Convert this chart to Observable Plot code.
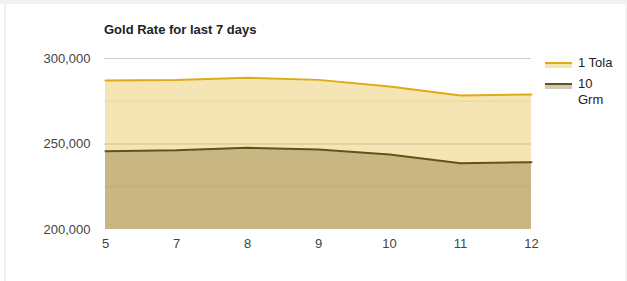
<!DOCTYPE html>
<html>
<head>
<meta charset="utf-8">
<script src="https://cdn.jsdelivr.net/npm/d3@7"></script>
<script src="https://cdn.jsdelivr.net/npm/@observablehq/plot@0.6"></script>
<style>
  html, body { margin: 0; padding: 0; background: #ffffff; }
  body { width: 627px; height: 281px; position: relative; overflow: hidden; font-family: Arial, "Liberation Sans", sans-serif; }
  #topband { position: absolute; left: 0; top: 0; width: 627px; height: 4px; background: #f1f1f1; }
  #leftband { position: absolute; left: 4px; top: 4px; width: 2px; height: 277px; background: #efefef; }
  #rightband { position: absolute; left: 625px; top: 4px; width: 2px; height: 277px; background: #f3f3f3; }
  #chart { position: absolute; left: 0; top: 0; }
  #title { position: absolute; left: 104px; top: 22px; font-size: 13px; font-weight: bold; color: #222; white-space: nowrap; line-height: 16px; }
  .lg { position: absolute; font-size: 13px; color: #222; line-height: 16px; }
  .sw { position: absolute; width: 27px; height: 4px; }
</style>
</head>
<body>
<div id="topband"></div>
<div id="leftband"></div>
<div id="rightband"></div>
<div id="chart"></div>
<div id="title">Gold Rate for last 7 days</div>
<div id="legend"></div>
<script>
// Data
const days = ["5", "7", "8", "9", "10", "11", "12"];
const tola = [287100, 287400, 288700, 287500, 283600, 278400, 279000];
const grm = [245800, 246300, 247800, 246800, 243900, 238800, 239400];
const seriesNames = ["1 Tola", "10 Grm"];
const yTicks = [200000, 250000, 300000];
const yMinor = [225000, 275000];

const tolaColor = "#e1a805";
const grmColor = "#604c14";
const tolaLine = "#deaa18";
const grmLine = "#655219";

const data = days.map((d, i) => ({day: d, tola: tola[i], grm: grm[i]}));
const base = yTicks[0];

const chart = Plot.plot({
  width: 627,
  height: 281,
  marginLeft: 104,
  marginRight: 96,
  marginTop: 58,
  marginBottom: 52,
  style: {fontFamily: "Arial, 'Liberation Sans', sans-serif", fontSize: "13px", background: "transparent", overflow: "visible"},
  x: {type: "point", domain: days, padding: 0, align: 0.5},
  y: {domain: [200000, 300000]},
  marks: [
    Plot.ruleY(yMinor, {stroke: "#ebebeb"}),
    Plot.ruleY(yTicks.slice(1), {stroke: "#cccccc"}),
    Plot.areaY(data, {x: "day", y1: base, y2: "tola", fill: tolaColor, fillOpacity: 0.3, curve: "linear"}),
    Plot.areaY(data, {x: "day", y1: base, y2: "grm", fill: grmColor, fillOpacity: 0.3, curve: "linear"}),
    Plot.lineY(data, {x: "day", y: "tola", stroke: tolaLine, strokeWidth: 2}),
    Plot.lineY(data, {x: "day", y: "grm", stroke: grmLine, strokeWidth: 2}),
    Plot.axisY({ticks: yTicks, tickSize: 0, tickPadding: 14, tickFormat: d3.format(","), fill: "#444", label: null}),
    Plot.axisX({tickSize: 0, tickPadding: 9, fill: "#444", label: null})
  ]
});
document.getElementById("chart").appendChild(chart);

// Legend
const legend = document.getElementById("legend");
const legendItems = [
  {name: seriesNames[0], color: tolaColor, line: tolaLine, top: 62, textTop: 55, width: 45},
  {name: seriesNames[1], color: grmColor, line: grmLine, top: 83, textTop: 76, width: 30}
];
for (const it of legendItems) {
  const sw = document.createElement("div");
  sw.className = "sw";
  sw.style.left = "545px";
  sw.style.top = it.top + "px";
  sw.style.borderTop = "2px solid " + it.line;
  sw.style.background = it.color;
  sw.style.opacity = "1";
  sw.style.backgroundColor = d3.color(it.color).copy({opacity: 0.3}).formatRgb();
  legend.appendChild(sw);
  const tx = document.createElement("div");
  tx.className = "lg";
  tx.style.left = "578px";
  tx.style.top = it.textTop + "px";
  tx.style.width = it.width + "px";
  tx.textContent = it.name;
  legend.appendChild(tx);
}
</script>
</body>
</html>
